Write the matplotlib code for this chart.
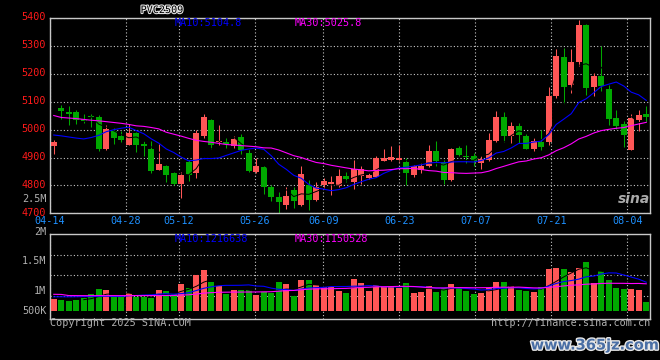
import matplotlib
matplotlib.use("Agg")
import matplotlib.pyplot as plt
import matplotlib.patheffects as pe
from matplotlib.transforms import ScaledTranslation
import numpy as np
import pandas as pd

# --- daily bars 04-14 .. 08-07 ---
opens = [4943, 5078, 5063, 5062, 5040, 5050, 5047, 4932, 4995, 4978,
         4946, 4988, 4950, 4931, 4857, 4871, 4844, 4806, 4885, 4843,
         4978, 5036, 4955, 4955, 4940, 4975, 4918, 4848, 4865, 4793,
         4757, 4731, 4785, 4730, 4803, 4746, 4800, 4805, 4797, 4835,
         4811, 4835, 4825, 4830, 4887, 4892, 4890, 4883, 4836, 4857,
         4868, 4922, 4885, 4818, 4936, 4906, 4907, 4881, 4891, 4960,
         5044, 4979, 5012, 4978, 4930, 4955, 4955, 5122, 5262, 5159,
         5242, 5377, 5152, 5194, 5147, 5043, 5021, 4928, 5036, 5057]
highs = [4963, 5090, 5084, 5072, 5057, 5056, 5053, 5018, 5006, 4996,
         5022, 4992, 4958, 4958, 4950, 4875, 4848, 4850, 4893, 5000,
         5058, 5040, 5016, 4970, 4978, 4983, 4930, 4900, 4868, 4800,
         4775, 4795, 4795, 4870, 4818, 4813, 4826, 4833, 4860, 4848,
         4892, 4870, 4845, 4907, 4930, 4940, 4946, 4898, 4875, 4880,
         4946, 4958, 4890, 4933, 4943, 4946, 4918, 4907, 4988, 5066,
         5064, 5026, 5025, 4985, 4970, 4998, 5152, 5288, 5292, 5290,
         5395, 5380, 5202, 5302, 5160, 5070, 5032, 5058, 5072, 5084]
lows = [4912, 5038, 5018, 5022, 5024, 5008, 4925, 4928, 4948, 4955,
        4946, 4919, 4904, 4845, 4855, 4811, 4800, 4755, 4815, 4826,
        4970, 4930, 4946, 4934, 4934, 4912, 4847, 4846, 4771, 4743,
        4701, 4714, 4720, 4727, 4712, 4745, 4786, 4767, 4795, 4811,
        4788, 4805, 4822, 4829, 4886, 4886, 4884, 4802, 4830, 4845,
        4865, 4870, 4805, 4816, 4906, 4882, 4871, 4859, 4889, 4955,
        4956, 4952, 4952, 4930, 4922, 4927, 4946, 5114, 5093, 5133,
        5228, 5126, 5120, 5140, 5018, 5004, 4937, 4928, 4994, 5028]
closes = [4955, 5066, 5055, 5036, 5032, 5045, 4932, 5002, 4970, 4962,
          4990, 4946, 4941, 4853, 4878, 4836, 4804, 4836, 4837, 4990,
          5045, 4945, 4961, 4947, 4968, 4927, 4853, 4868, 4793, 4757,
          4742, 4763, 4745, 4842, 4748, 4794, 4816, 4811, 4833, 4824,
          4860, 4860, 4836, 4900, 4900, 4903, 4898, 4843, 4870, 4870,
          4922, 4886, 4818, 4931, 4910, 4903, 4889, 4896, 4964, 5045,
          4978, 5012, 4980, 4932, 4958, 4937, 5122, 5263, 5152, 5242,
          5377, 5150, 5194, 5158, 5040, 5014, 4980, 5042, 5054, 5044]
volumes = [507000, 465000, 422000, 465000, 535000, 718000, 930000, 887000, 606000, 606000,
           775000, 606000, 606000, 549000, 887000, 845000, 732000, 1141000, 972000, 1521000,
           1732000, 1225000, 1056000, 718000, 887000, 887000, 887000, 676000, 845000, 746000,
           1225000, 1141000, 648000, 1310000, 1310000, 1099000, 1000000, 1000000, 859000, 761000,
           1352000, 1197000, 845000, 1099000, 1028000, 1056000, 958000, 1183000, 775000, 817000,
           1056000, 817000, 958000, 1141000, 958000, 845000, 718000, 775000, 958000, 1225000,
           1225000, 1056000, 887000, 845000, 817000, 1014000, 1775000, 1817000, 1775000, 1648000,
           1817000, 2070000, 1183000, 1690000, 1310000, 972000, 930000, 930000, 887000, 380000]

# moving averages at the start of the window (they need earlier bars)
ma10_head = [4981, 4978, 4974, 4970, 4967, 4972, 4980, 4993, 5000]
ma30_head = [5051, 5044, 5042, 5040, 5037, 5034, 5032, 5029, 5026, 5023,
             5019, 5014, 5012, 5008, 5003, 4991, 4984, 4977, 4969, 4962,
             4958, 4955, 4951, 4947, 4945, 4943, 4941, 4939, 4935]
vma10_head = [600000, 602000, 598000, 604000, 610000, 612000, 618000, 622000, 615000]
vma30_head = [705000, 700000, 652000, 650000, 648000, 648000, 650000, 650000, 649000, 648000,
              650000, 651000, 650000, 652000, 653000, 655000, 655000, 673000, 685000, 716000,
              754000, 775000, 790000, 795000, 798000, 800000, 802000, 805000, 808000]

date_labels = ['04-14', '04-28', '05-12', '05-26', '06-09', '06-23', '07-07', '07-21', '08-04']
date_index = [0, 10, 17, 27, 36, 46, 56, 66, 76]
price_ticks = [4700, 4800, 4900, 5000, 5100, 5200, 5300, 5400]

RED = '#ff5656'
GREEN = '#00a800'
BLUE = '#0000ff'
MAG = '#ff00ff'
GRID = '#c8c8c8'
GREY = '#b0b0b0'
MONO = 'DejaVu Sans Mono'


def moving(vals, win, head):
    s = pd.Series(vals, dtype=float).rolling(win).mean().to_numpy()
    if head is not None:
        s[:len(head)] = head
    return s


o = np.array(opens, float)
c = np.array(closes, float)
n = len(c)
x = np.arange(n)
col = np.where(c >= o, RED, GREEN)

ma5 = moving(closes, 5, None)
ma10 = moving(closes, 10, ma10_head)
ma30 = moving(closes, 30, ma30_head)
vma5 = moving(volumes, 5, None)
vma10 = moving(volumes, 10, vma10_head)
vma30 = moving(volumes, 30, vma30_head)

W, H = 660, 360
fig = plt.figure(figsize=(W / 100, H / 100), dpi=100, facecolor='black')


def box(l, t, r, b):
    return [l / W, 1 - b / H, (r - l) / W, (b - t) / H]


ax = fig.add_axes(box(50, 18.3, 650, 213.3))
axv = fig.add_axes(box(50, 234.3, 650, 318.5))

# grid x positions: the site spreads the date grid over n-1 steps
grid_x = [i * n / (n - 1) - 0.5 for i in date_index]

for a in (ax, axv):
    a.set_facecolor('black')
    a.set_xlim(-0.5, n - 0.5)
    a.set_xticks(grid_x)
    a.tick_params(length=0)
    a.grid(True, color=GRID, ls=(0, (1, 2)), lw=0.8, zorder=0)
    a.set_axisbelow(True)
    for sp in a.spines.values():
        sp.set_color(GRID)
        sp.set_linewidth(1)

# --- price panel ---
ax.vlines(x, lows, highs, colors=col, lw=0.75, zorder=2)
ax.bar(x, np.maximum(np.abs(c - o), 3), bottom=np.minimum(o, c), width=0.8,
       color=col, linewidth=0, zorder=3)
ax.plot(x, ma5, color='black', lw=0.7, zorder=4)
ax.plot(x, ma10, color=BLUE, lw=0.8, zorder=5)
ax.plot(x, ma30, color=MAG, lw=0.8, zorder=5)
ax.set_ylim(price_ticks[0], price_ticks[-1])
ax.set_yticks(price_ticks)
ax.set_yticklabels([str(p) for p in price_ticks], color='#ff1a1a', family=MONO, fontsize=7.3)
ax.set_xticklabels(date_labels, color='#1e90ff', family=MONO, fontsize=7.3)
ax.tick_params(axis='x', pad=2.2)
ax.tick_params(axis='y', pad=3)
lift = ScaledTranslation(0, 1.8 / 100, fig.dpi_scale_trans)
for lab in ax.get_yticklabels():
    lab.set_transform(lab.get_transform() + lift)

# --- volume panel ---
axv.bar(x, volumes, width=0.8, color=col, linewidth=0, zorder=3)
axv.plot(x, vma5, color='black', lw=0.7, zorder=4)
axv.plot(x, vma10, color=BLUE, lw=0.8, zorder=5)
axv.plot(x, vma30, color=MAG, lw=0.8, zorder=5)
vlo, vhi = -317000, 3240000
axv.set_ylim(vlo, vhi)
axv.set_yticks([vlo + f * (vhi - vlo) for f in (0.27, 0.52, 0.75)])
axv.set_yticklabels([])
axv.set_xticklabels([])

for txt, fy in [('2.5M', 1.425), ('2M', 1.027), ('1.5M', 0.683), ('1M', 0.327), ('500K', 0.089)]:
    axv.text(-0.006, fy, txt, transform=axv.transAxes, ha='right', va='center',
             color=GREY, family=MONO, fontsize=7.3, clip_on=False)


# --- labels ---
def ftext(px, py, s, color, **kw):
    return fig.text(px / W, 1 - py / H, s, color=color, family=MONO, fontsize=7.3,
                    va='center', **kw)


ftext(175, 23.5, 'MA10:5104.8', BLUE)
ftext(295, 23.5, 'MA30:5025.8', MAG)
ftext(175, 238.5, 'MA10:1216638', BLUE)
ftext(295, 238.5, 'MA30:1150528', MAG)
ftext(50, 323.5, 'Copyright 2025 SINA.COM', GREY)
ftext(650, 323.5, 'http://finance.sina.com.cn', GREY, ha='right')

t = ftext(162, 10, 'PVC2509', 'black', ha='center')
t.set_path_effects([pe.withStroke(linewidth=1.6, foreground='#e0e0e0')])

fig.text(634 / W, 1 - 199 / H, 'sina', color='#c8c8c8', fontsize=10, style='italic',
         weight='bold', ha='center', va='center', family='DejaVu Sans', alpha=0.85)

wm = fig.text(595 / W, 1 - 345 / H, 'www.365jz.com', color='#4a6fa5', fontsize=10.5,
              weight='bold', ha='center', va='center', family='DejaVu Sans')
wm.set_path_effects([pe.withStroke(linewidth=2, foreground='#e8e8e8')])

fig.savefig('out.png', dpi=100, facecolor='black')
